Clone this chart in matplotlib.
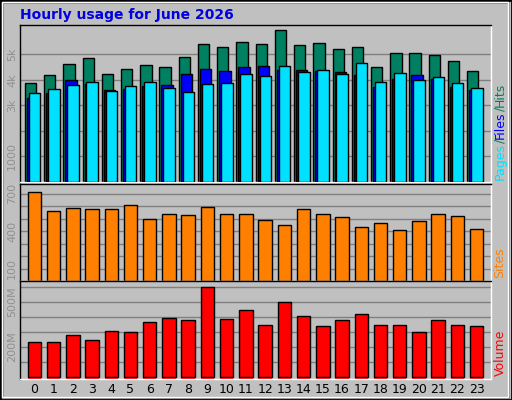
import matplotlib
matplotlib.use("Agg")
import matplotlib.pyplot as plt
from matplotlib.patches import Rectangle
import numpy as np

hours = list(range(24))
hits = [3.88,4.2,4.63,4.85,4.23,4.42,4.58,4.5,4.9,5.4,5.28,5.5,5.4,5.95,5.36,5.44,5.2,5.28,4.5,5.05,5.05,4.97,4.73,4.34]
files = [3.3,3.5,4.0,3.83,3.6,3.64,3.75,3.8,4.23,4.42,4.34,4.5,4.53,4.37,4.37,4.34,4.3,4.2,3.72,4.03,4.2,4.03,3.72,3.6]
pages = [3.5,3.64,3.8,3.92,3.56,3.75,3.92,3.68,3.53,3.83,3.88,4.23,4.15,4.53,4.3,4.37,4.23,4.67,3.92,4.27,4.0,4.1,3.88,3.68]
sites = [713,560,584,576,576,608,495,535,527,592,535,535,487,447,576,535,511,431,463,406,479,535,519,415]
volume = [229,229,276,249,309,296,369,396,382,602,389,449,349,502,409,336,382,422,349,349,302,382,349,336]

W, H = 512, 400
fig = plt.figure(figsize=(W/100, H/100), dpi=100, facecolor="#c0c0c0")
fig.patches.append(Rectangle((0, 0), 1, 1, transform=fig.transFigure, fill=False, ec="black", lw=2))
fig.patches.append(Rectangle((3/W, 2/H), 1-6/W, 1-5/H, transform=fig.transFigure, fill=False, ec="#808080", lw=1.5))
fig.patches.append(Rectangle((2/W, 3/H), 1-6/W, 1-5/H, transform=fig.transFigure, fill=False, ec="white", lw=1))

def ax_px(x0, y0, x1, y1):
    return fig.add_axes([x0/W, 1-y1/H, (x1-x0)/W, (y1-y0)/H])

def style(ax, ylim, grid, ticks, labels):
    ax.set_facecolor("#c0c0c0")
    ax.set_xlim(-0.745, 23.745)
    ax.set_ylim(*ylim)
    for g in grid:
        ax.axhline(g, color="#808080", lw=1, zorder=0)
    ax.set_yticks(ticks)
    ax.set_yticklabels(labels, rotation=90, va="center", color="#909090", fontsize=8)
    ax.tick_params(axis="y", length=0, pad=2)
    for s in ax.spines.values():
        s.set_color("white")
        s.set_linewidth(1)
    ax.spines["left"].set_color("black")
    ax.spines["top"].set_color("black")

x = np.array(hours)
ax1 = ax_px(20, 25, 491, 182)
style(ax1, (0, 6.15), [1, 2, 3, 4, 5], [1, 3, 4, 5], ["1000", "3k", "4k", "5k"])
ax1.bar(x-0.2, hits, 0.59, color="#008060", ec="black", lw=1, zorder=2)
ax1.bar(x-0.094, files, 0.59, color="#0000ff", ec="black", lw=1, zorder=3)
ax1.bar(x+0.01, pages, 0.6, color="#00e0ff", ec="black", lw=1, zorder=4)
ax1.set_xticks([])

ax2 = ax_px(20, 184, 491, 281)
style(ax2, (0, 778), [100,200,300,400,500,600,700], [100, 400, 700], ["100", "400", "700"])
ax2.bar(x, sites, 0.7, color="#ff8000", ec="black", lw=1, zorder=2)
ax2.set_xticks([])

ax3 = ax_px(20, 281, 491, 379)
style(ax3, (-15, 640), [100,200,300,400,500,600], [200, 500], ["200M", "500M"])
ax3.bar(x, volume, 0.7, bottom=0, color="#ff0000", ec="black", lw=1, zorder=2)
ax3.bar(x, [15]*24, 0.7, bottom=-15, color="#ff0000", lw=0, zorder=1)
ax3.set_xticks(hours)
ax3.set_xticklabels([str(h) for h in hours], fontsize=9)
ax3.tick_params(axis="x", length=0, pad=3)

fig.text(20/W, 1-15/H, "Hourly usage for June 2026", color="#0000e0", fontsize=10, fontweight="bold", va="center")

# chained right label
renderer = fig.canvas.get_renderer()
ypos = 180
for txt, col in [("Pages", "#00e0ff"), ("/", "#008060"), ("Files", "#0000ff"), ("/", "#008060"), ("Hits", "#008060")]:
    t = fig.text(500/W, 1-ypos/H, txt, color=col, rotation=90, ha="center", va="bottom", fontsize=9)
    ext = t.get_window_extent(renderer)
    ypos -= ext.height
fig.text(500/W, 1-278/H, "Sites", color="#ff8000", rotation=90, ha="center", va="bottom", fontsize=9)
fig.text(500/W, 1-376/H, "Volume", color="#ff0000", rotation=90, ha="center", va="bottom", fontsize=9)

fig.savefig("out.png", dpi=100, facecolor=fig.get_facecolor())
